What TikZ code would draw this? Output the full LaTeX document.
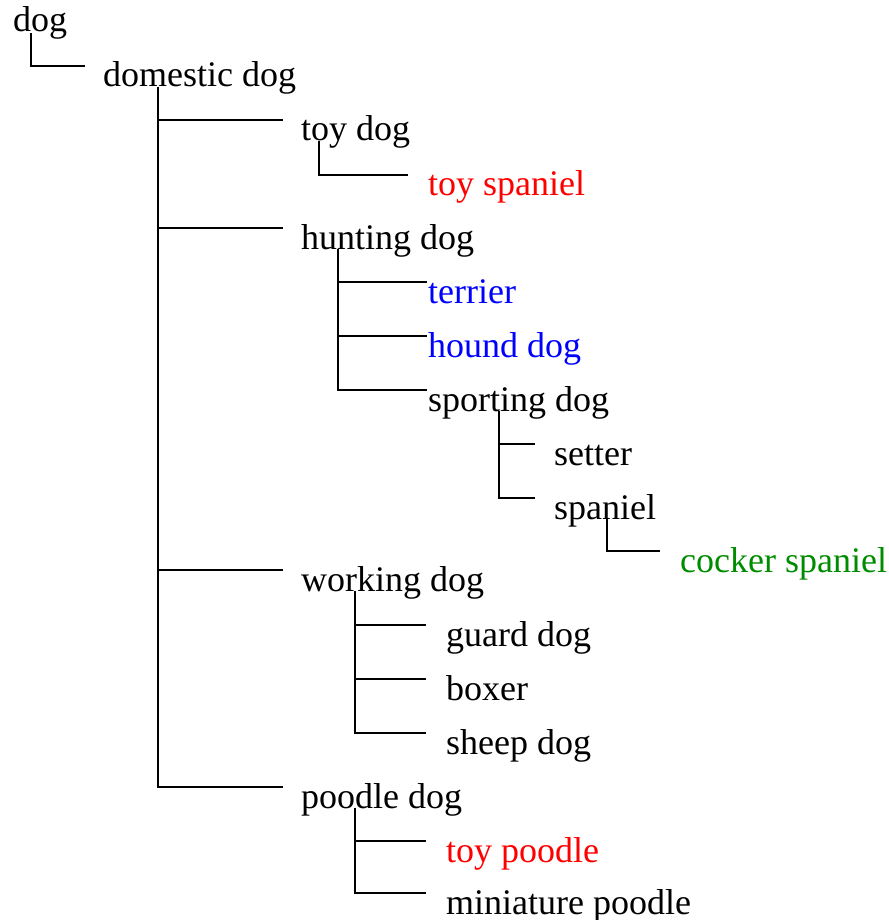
\documentclass[tikz,border=0pt]{standalone}
\usepackage{fontspec}
\setmainfont{Liberation Serif}
\usetikzlibrary{calc}
\definecolor{leafgreen}{RGB}{0,140,0}
\begin{document}
\begin{tikzpicture}[x=1pt,y=1pt,
  term/.style={anchor=base west, inner sep=0pt, font=\fontsize{36}{43}\selectfont},
  link/.style={line width=1.5pt}]
\useasboundingbox (0,0) rectangle (888,-920);

% terms, placed by baseline
\node[term] (dog)        at (13,-32)  {dog};
\node[term] (domestic)   at (103,-87) {domestic dog};
\node[term] (toydog)     at (301,-141) {toy dog};
\node[term, red] (toyspaniel) at (428,-196) {toy spaniel};
\node[term] (hunting)    at (301,-249) {hunting dog};
\node[term, blue] (terrier) at (428,-303) {terrier};
\node[term, blue] (hound)   at (428,-357) {hound dog};
\node[term] (sporting)   at (428,-411) {sporting dog};
\node[term] (setter)     at (554,-465) {setter};
\node[term] (spaniel)    at (554,-519) {spaniel};
\node[term, leafgreen] (cocker) at (680,-572) {cocker spaniel};
\node[term] (working)    at (301,-591) {working dog};
\node[term] (guard)      at (446,-646) {guard dog};
\node[term] (boxer)      at (446,-700) {boxer};
\node[term] (sheep)      at (446,-754) {sheep dog};
\node[term] (poodle)     at (301,-808) {poodle dog};
\node[term, red] (toypoodle) at (446,-862) {toy poodle};
\node[term] (miniature)  at (446,-914) {miniature poodle};

% trunk of each parent
\coordinate (dog-v)      at ($(dog.base west)+(18,-1)$);
\coordinate (domestic-v) at ($(domestic.base west)+(55,0)$);
\coordinate (toydog-v)   at ($(toydog.base west)+(18,0)$);
\coordinate (hunting-v)  at ($(hunting.base west)+(37,0)$);
\coordinate (sporting-v) at ($(sporting.base west)+(71,0)$);
\coordinate (spaniel-v)  at ($(spaniel.base west)+(53,0)$);
\coordinate (working-v)  at ($(working.base west)+(54,0)$);
\coordinate (poodle-v)   at ($(poodle.base west)+(54,0)$);

% connectors
\draw[link] (dog-v) |- ($(domestic.base west)+(-18,21)$);
\draw[link] (domestic-v) |- ($(toydog.base west)+(-18,21)$);
\draw[link] (domestic-v) |- ($(hunting.base west)+(-18,21)$);
\draw[link] (domestic-v) |- ($(working.base west)+(-18,21)$);
\draw[link] (domestic-v) |- ($(poodle.base west)+(-18,21)$);
\draw[link] (toydog-v) |- ($(toyspaniel.base west)+(-20,21)$);
\draw[link] (hunting-v) |- ($(terrier.base west)+(-1,21)$);
\draw[link] (hunting-v) |- ($(hound.base west)+(-1,21)$);
\draw[link] (hunting-v) |- ($(sporting.base west)+(-1,21)$);
\draw[link] (sporting-v) |- ($(setter.base west)+(-19,21)$);
\draw[link] (sporting-v) |- ($(spaniel.base west)+(-19,21)$);
\draw[link] (spaniel-v) |- ($(cocker.base west)+(-20,21)$);
\draw[link] (working-v) |- ($(guard.base west)+(-20,21)$);
\draw[link] (working-v) |- ($(boxer.base west)+(-20,21)$);
\draw[link] (working-v) |- ($(sheep.base west)+(-20,21)$);
\draw[link] (poodle-v) |- ($(toypoodle.base west)+(-20,21)$);
\draw[link] (poodle-v) |- ($(miniature.base west)+(-20,21)$);
\end{tikzpicture}
\end{document}
